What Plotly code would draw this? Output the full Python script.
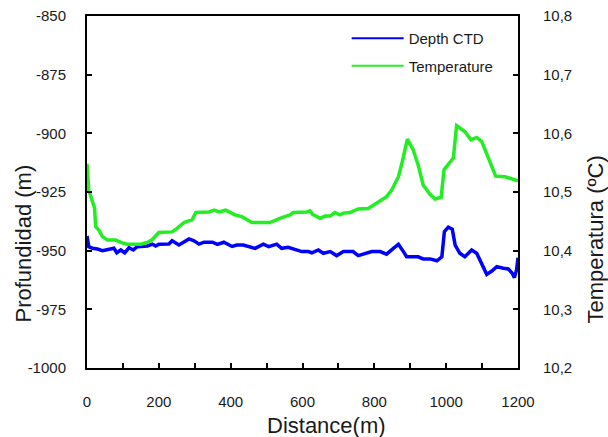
import plotly.graph_objects as go

# Depth CTD (m) vs distance (m)
depth_dist = [0, 5, 15, 29, 43, 61, 75, 83, 94, 105, 117, 129, 140, 168, 182, 191, 200, 228, 237, 256, 270, 284,
              298, 312, 326, 349, 363, 381, 404, 417, 435, 449, 468, 491, 506, 528, 542, 560, 584, 598, 616, 626,
              644, 658, 677, 695, 714, 741, 755, 774, 793, 816, 834, 853, 867, 881, 890, 922, 936, 955, 974, 988,
              995, 1006, 1017, 1025, 1038, 1052, 1071, 1085, 1099, 1113, 1127, 1141, 1159, 1173, 1184, 1190, 1196, 1200]
depth_vals = [-943.7, -948.3, -949.0, -949.3, -950.0, -949.4, -949.0, -950.9, -949.7, -950.9, -948.7, -949.7, -948.3,
              -948.0, -947.2, -948.0, -947.3, -947.2, -945.8, -947.6, -946.2, -945.0, -945.8, -947.2, -946.4, -946.4,
              -947.3, -946.4, -948.2, -947.6, -947.6, -948.3, -949.0, -947.2, -948.3, -947.2, -949.0, -948.6, -949.7,
              -950.4, -950.4, -950.9, -949.7, -951.1, -950.4, -952.1, -950.4, -950.4, -952.1, -951.1, -950.4, -950.4,
              -951.5, -949.0, -947.3, -950.4, -952.6, -952.6, -953.5, -953.5, -954.3, -952.6, -941.9, -940.0, -940.8,
              -947.6, -951.1, -952.6, -949.7, -951.1, -955.4, -960.1, -958.7, -956.8, -957.5, -957.8, -959.6, -961.5,
              -958.2, -953.0]

# Temperature (ºC) vs distance (m)
temp_dist = [0, 5, 14, 21, 24, 33, 43, 57, 80, 94, 112, 150, 168, 182, 200, 237, 251, 270, 293, 303, 340, 354, 368,
             386, 412, 431, 459, 509, 537, 565, 574, 612, 621, 628, 649, 663, 677, 690, 704, 714, 732, 755, 783, 807,
             820, 834, 848, 867, 878, 892, 908, 922, 936, 955, 969, 986, 994, 1006, 1020, 1029, 1052, 1069, 1085, 1099,
             1117, 1138, 1164, 1182, 1200]
temp_vals = [10.548, 10.503, 10.486, 10.473, 10.441, 10.435, 10.424, 10.418, 10.418, 10.414, 10.411, 10.411, 10.414,
             10.419, 10.431, 10.432, 10.438, 10.448, 10.453, 10.465, 10.466, 10.469, 10.466, 10.469, 10.461, 10.458,
             10.448, 10.448, 10.455, 10.461, 10.465, 10.466, 10.468, 10.462, 10.455, 10.459, 10.459, 10.465, 10.461,
             10.464, 10.465, 10.471, 10.472, 10.482, 10.486, 10.492, 10.503, 10.526, 10.552, 10.590, 10.572, 10.546,
             10.512, 10.496, 10.488, 10.491, 10.538, 10.547, 10.558, 10.613, 10.603, 10.589, 10.593, 10.586, 10.558,
             10.527, 10.526, 10.523, 10.519]

x_tickvals = [0, 100, 200, 300, 400, 500, 600, 700, 800, 900, 1000, 1100, 1200]
x_ticktext = ["0", "", "200", "", "400", "", "600", "", "800", "", "1000", "", "1200"]
y_tickvals = [-1000, -975, -950, -925, -900, -875, -850]
y_ticktext = ["-1000", "-975", "-950", "-925", "-900", "-875", "-850"]
y2_tickvals = [10.2, 10.3, 10.4, 10.5, 10.6, 10.7, 10.8]
y2_ticktext = ["10,2", "10,3", "10,4", "10,5", "10,6", "10,7", "10,8"]

BLUE = "#0000FF"
GREEN = "#22EE22"
FONT = "Arial, Liberation Sans, sans-serif"
TXT = "#1a1a1a"

fig = go.Figure()
fig.add_trace(go.Scatter(x=depth_dist, y=depth_vals, mode="lines", line=dict(color=BLUE, width=3.5),
                         showlegend=False, yaxis="y"))
fig.add_trace(go.Scatter(x=temp_dist, y=temp_vals, mode="lines", line=dict(color=GREEN, width=3.5),
                         showlegend=False, yaxis="y2"))
# legend entries (thin lines, as in the original legend)
fig.add_trace(go.Scatter(x=[None], y=[None], mode="lines", line=dict(color=BLUE, width=2),
                         name="Depth CTD", legendgroup="a"))
fig.add_trace(go.Scatter(x=[None], y=[None], mode="lines", line=dict(color=GREEN, width=2),
                         name="Temperature", legendgroup="b", yaxis="y2"))

axis_common = dict(showline=True, linecolor="black", linewidth=2, ticks="inside", ticklen=5,
                   tickcolor="black", tickwidth=1.5, showgrid=False, zeroline=False, automargin=False,
                   ticklabeloverflow="allow",
                   tickfont=dict(family=FONT, size=15, color=TXT))

fig.update_layout(
    width=608, height=437,
    margin=dict(l=87, r=90, t=16, b=69),
    paper_bgcolor="white", plot_bgcolor="white",
    font=dict(family=FONT, color=TXT),
    xaxis=dict(range=[0, 1200], tickmode="array", tickvals=x_tickvals, ticktext=x_ticktext, mirror=True,
               ticklabelstandoff=19, **axis_common),
    yaxis=dict(range=[-1000, -850], tickmode="array", tickvals=y_tickvals, ticktext=y_ticktext,
               ticklabelstandoff=16, **axis_common),
    yaxis2=dict(range=[10.2, 10.8], tickmode="array", tickvals=y2_tickvals, ticktext=y2_ticktext,
                overlaying="y", side="right", ticklabelstandoff=20, **axis_common),
    legend=dict(x=0.6025, y=0.983, xanchor="left", yanchor="top", bgcolor="rgba(0,0,0,0)",
                font=dict(family=FONT, size=15, color=TXT), tracegroupgap=5, traceorder="grouped",
                itemwidth=52),
    annotations=[
        dict(text="Profundidad (m)", xref="paper", yref="paper", x=-0.1473, y=0.3523, textangle=-90,
             showarrow=False, xanchor="center", yanchor="middle", font=dict(family=FONT, size=22, color=TXT)),
        dict(text="Temperatura (ºC)", xref="paper", yref="paper", x=1.1821, y=0.3665, textangle=-90,
             showarrow=False, xanchor="center", yanchor="middle", font=dict(family=FONT, size=22, color=TXT)),
        dict(text="Distance(m)", xref="paper", yref="paper", x=0.5568, y=-0.162,
             showarrow=False, xanchor="center", yanchor="middle", font=dict(family=FONT, size=22, color=TXT)),
    ],
)

# remove the browser's default page margin so the 608x437 figure fills the window exactly
fig.write_html("out.html", config={"displayModeBar": False},
               post_script="document.body.style.margin='0';document.body.style.overflow='hidden';")
